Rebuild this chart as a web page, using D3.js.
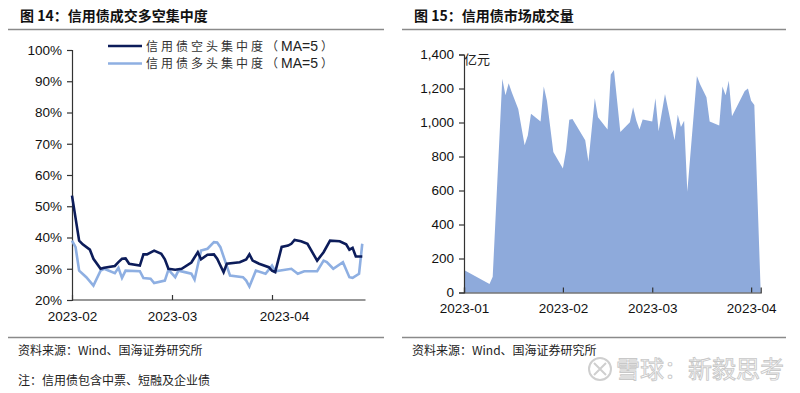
<!DOCTYPE html>
<html>
<head>
<meta charset="utf-8">
<script src="https://cdn.jsdelivr.net/npm/d3@7"></script>
<style>
  body { margin: 0; background: #fff; }
  text { font-family: "Liberation Sans", Arial, "Noto Sans CJK SC", sans-serif; }
  .cjk { font-family: "Noto Sans CJK SC", sans-serif; }
</style>
</head>
<body>
<div id="chart"></div>
<script>
// 图14 数据：信用债空头 / 多头集中度 (MA=5)
const shortDates = ["2023-02-01","2023-02-03","2023-02-04","2023-02-06","2023-02-07","2023-02-09","2023-02-10","2023-02-13","2023-02-14","2023-02-15","2023-02-16","2023-02-17","2023-02-20","2023-02-21","2023-02-22","2023-02-24","2023-02-26","2023-02-27","2023-02-28","2023-03-02","2023-03-04","2023-03-07","2023-03-09","2023-03-10","2023-03-12","2023-03-14","2023-03-15","2023-03-17","2023-03-18","2023-03-22","2023-03-24","2023-03-25","2023-03-26","2023-03-28","2023-03-31","2023-04-01","2023-04-02","2023-04-04","2023-04-06","2023-04-07","2023-04-08","2023-04-10","2023-04-12","2023-04-15","2023-04-17","2023-04-19","2023-04-22","2023-04-24","2023-04-25","2023-04-26","2023-04-27","2023-04-29"];
const shortValues = [53.4,39.0,37.8,36.1,33.2,30.0,30.3,30.9,32.1,33.2,33.3,31.6,31.0,34.6,34.6,35.8,34.8,33.0,30.0,29.7,30.0,32.0,35.3,33.0,34.5,34.6,33.2,28.9,31.6,32.1,33.0,34.6,32.6,31.6,30.5,29.4,28.9,37.0,37.4,38.0,39.2,38.8,38.0,32.6,35.3,39.0,38.8,37.8,36.1,36.7,33.9,33.9];
const longDates = ["2023-02-01","2023-02-02","2023-02-03","2023-02-05","2023-02-07","2023-02-09","2023-02-10","2023-02-13","2023-02-14","2023-02-15","2023-02-16","2023-02-20","2023-02-21","2023-02-23","2023-02-24","2023-02-27","2023-02-28","2023-03-02","2023-03-03","2023-03-07","2023-03-08","2023-03-10","2023-03-12","2023-03-14","2023-03-15","2023-03-16","2023-03-19","2023-03-23","2023-03-24","2023-03-25","2023-03-27","2023-03-30","2023-04-01","2023-04-02","2023-04-07","2023-04-09","2023-04-11","2023-04-15","2023-04-17","2023-04-18","2023-04-20","2023-04-23","2023-04-25","2023-04-26","2023-04-28","2023-04-29"];
const longValues = [39.0,36.9,29.4,27.3,24.6,29.4,30.0,28.6,30.3,27.1,29.4,29.2,27.0,26.8,25.4,26.2,29.7,27.3,29.4,28.4,26.5,35.8,36.4,38.5,38.4,36.9,27.8,27.3,26.2,24.3,29.4,28.4,31.0,29.2,30.0,28.4,29.2,29.2,32.6,32.1,30.0,32.1,27.3,27.1,28.4,38.0];
const pctTicks = [20,30,40,50,60,70,80,90,100];
const leftTickDates = ["2023-02-01","2023-03-01","2023-04-01"];

// 图15 数据：信用债市场成交量（亿元）
const volDates = ["2023-01-01","2023-01-09","2023-01-10","2023-01-13","2023-01-14","2023-01-15","2023-01-16","2023-01-18","2023-01-20","2023-01-21","2023-01-22","2023-01-25","2023-01-26","2023-01-27","2023-01-29","2023-02-01","2023-02-02","2023-02-03","2023-02-04","2023-02-08","2023-02-09","2023-02-10","2023-02-11","2023-02-12","2023-02-15","2023-02-16","2023-02-17","2023-02-19","2023-02-22","2023-02-23","2023-02-24","2023-02-25","2023-02-26","2023-03-01","2023-03-02","2023-03-03","2023-03-05","2023-03-08","2023-03-09","2023-03-10","2023-03-11","2023-03-12","2023-03-15","2023-03-16","2023-03-18","2023-03-19","2023-03-22","2023-03-23","2023-03-24","2023-03-25","2023-03-26","2023-03-30","2023-03-31","2023-04-01","2023-04-02","2023-04-04"];
const volValues = [132,50,93,1258,1161,1231,1177,1080,866,924,1051,1006,1212,1128,827,730,837,1016,1021,895,769,954,1142,1031,959,1283,1309,944,1002,1089,1012,959,1018,1006,1142,948,1167,895,1045,973,1010,593,1274,1225,1148,1006,983,1212,1161,1245,1037,1186,1200,1128,1103,0];
const volTicks = [0,200,400,600,800,1000,1200,1400];
const rightTickDates = ["2023-01-01","2023-02-01","2023-03-01","2023-04-01"];

const W = 800, H = 393;
const parse = d3.timeParse("%Y-%m-%d");
const fmtMonth = d3.timeFormat("%Y-%m");

const svg = d3.select("#chart").append("svg")
    .attr("width", W)
    .attr("height", H);

// 标题与分隔线
function header(x0, x1, label) {
  svg.append("text")
      .attr("class", "cjk")
      .attr("x", x0 + 12)
      .attr("y", 21)
      .style("font-size", "14px")
      .style("font-weight", "bold")
      .attr("fill", "#111")
      .text(label);
  svg.append("line")
      .attr("x1", x0).attr("x2", x1)
      .attr("y1", 29.5).attr("y2", 29.5)
      .attr("stroke", "#8a8a8a").attr("stroke-width", 1.5);
  svg.append("line")
      .attr("x1", x0).attr("x2", x1)
      .attr("y1", 337.5).attr("y2", 337.5)
      .attr("stroke", "#8a8a8a").attr("stroke-width", 1.5);
  svg.append("text")
      .attr("class", "cjk")
      .attr("x", x0 + 10)
      .attr("y", 355)
      .style("font-size", "12px")
      .attr("fill", "#222")
      .text("资料来源：Wind、国海证券研究所");
}
header(8, 384, "图 14：信用债成交多空集中度");
header(402, 786, "图 15：信用债市场成交量");

svg.append("text")
    .attr("class", "cjk")
    .attr("x", 18)
    .attr("y", 385)
    .style("font-size", "12px")
    .attr("fill", "#222")
    .text("注：信用债包含中票、短融及企业债");

// ---------- 左图 ----------
const xL = d3.scaleTime()
    .domain([parse("2023-02-01"), parse("2023-03-01"), parse("2023-04-01"), parse("2023-04-30")])
    .range([72, 172, 272, 365.5]);
const yL = d3.scaleLinear().domain([20, 100]).range([300, 50]);

const leftAxisY = svg.append("g")
    .attr("transform", "translate(72,0)")
    .call(d3.axisLeft(yL).tickValues(pctTicks).tickSize(5).tickPadding(5).tickFormat(d => d + "%"));
leftAxisY.selectAll("text").style("font-size", "13.5px").attr("fill", "#111");

const leftAxisX = svg.append("g")
    .attr("transform", "translate(0,300)")
    .call(d3.axisBottom(xL).tickValues(leftTickDates.map(parse)).tickSize(-5).tickPadding(11).tickFormat(fmtMonth));
leftAxisX.selectAll("text").style("font-size", "13.5px").attr("fill", "#111")
    .attr("dx", (d, i) => i === 2 ? 12 : 0);
leftAxisX.select(".domain").attr("d", "M72,0H365.5");

[leftAxisY, leftAxisX].forEach(a => {
  a.selectAll(".domain, .tick line").attr("stroke", "#333").attr("stroke-width", 1.2);
});

const lineL = d3.line().x(d => xL(d.date)).y(d => yL(d.v));
const longData = longDates.map((d, i) => ({date: parse(d), v: longValues[i]}));
const shortData = shortDates.map((d, i) => ({date: parse(d), v: shortValues[i]}));

svg.append("path")
    .datum(longData)
    .attr("d", lineL)
    .attr("fill", "none")
    .attr("stroke", "#8eafe2")
    .attr("stroke-width", 2.6);
svg.append("path")
    .datum(shortData)
    .attr("d", lineL)
    .attr("fill", "none")
    .attr("stroke", "#0c1c5a")
    .attr("stroke-width", 2.6);

// 图例
const legendItems = [
  {name: "信用债空头集中度", color: "#0c1c5a"},
  {name: "信用债多头集中度", color: "#8eafe2"}
];
const legend = svg.selectAll(".legend")
    .data(legendItems)
    .enter().append("g")
    .attr("class", "legend")
    .attr("transform", (d, i) => `translate(108, ${46 + i * 17.5})`);
legend.append("line")
    .attr("x1", 0).attr("x2", 34)
    .attr("stroke", d => d.color)
    .attr("stroke-width", 2.6);
const legText = legend.append("text")
    .attr("x", 38)
    .attr("y", 4.5)
    .attr("fill", "#333");
legText.append("tspan")
    .attr("class", "cjk")
    .style("font-size", "12px")
    .style("letter-spacing", "3px")
    .text(d => d.name + "（");
legText.append("tspan")
    .style("font-size", "14px")
    .attr("fill", "#222")
    .text("MA=5");
legText.append("tspan")
    .attr("class", "cjk")
    .style("font-size", "12px")
    .attr("dx", 3)
    .text("）");

// ---------- 右图 ----------
const xR = d3.scaleTime()
    .domain([parse("2023-01-01"), parse("2023-04-04")])
    .range([464, 760.7]);
const yR = d3.scaleLinear().domain([0, 1400]).range([292.5, 54.5]);

const volData = volDates.map((d, i) => ({date: parse(d), v: volValues[i]}));
svg.append("path")
    .datum(volData)
    .attr("d", d3.area().x(d => xR(d.date)).y0(yR(0)).y1(d => yR(d.v)))
    .attr("fill", "#8eaadb");

const rightAxisY = svg.append("g")
    .attr("transform", "translate(464,0)")
    .call(d3.axisLeft(yR).tickValues(volTicks).tickSize(5).tickPadding(5).tickFormat(d3.format(",")));
rightAxisY.selectAll("text").style("font-size", "13.5px").attr("fill", "#111");

const rightAxisX = svg.append("g")
    .attr("transform", "translate(0,292.5)")
    .call(d3.axisBottom(xR).tickValues(rightTickDates.map(parse)).tickSize(-5).tickPadding(11).tickFormat(fmtMonth));
rightAxisX.selectAll("text").style("font-size", "13.5px").attr("fill", "#111");

[rightAxisY, rightAxisX].forEach(a => {
  a.selectAll(".domain, .tick line").attr("stroke", "#333").attr("stroke-width", 1.2);
});

svg.append("text")
    .attr("class", "cjk")
    .attr("x", 464)
    .attr("y", 64)
    .style("font-size", "13px")
    .attr("fill", "#222")
    .text("亿元");

// 水印
const wm = svg.append("g");
wm.append("circle")
    .attr("cx", 600).attr("cy", 369).attr("r", 11)
    .attr("fill", "none").attr("stroke", "#cfcfcf").attr("stroke-width", 2);
wm.append("path")
    .attr("d", "M594,363 L606,375 M606,363 L594,375")
    .attr("fill", "none").attr("stroke", "#cfcfcf").attr("stroke-width", 2);
wm.append("text")
    .attr("class", "cjk")
    .attr("x", 616).attr("y", 378)
    .style("font-size", "24px")
    .attr("fill", "#fff").attr("stroke", "#c8c8c8").attr("stroke-width", 0.9)
    .text("雪球：新毅思考");
</script>
</body>
</html>
